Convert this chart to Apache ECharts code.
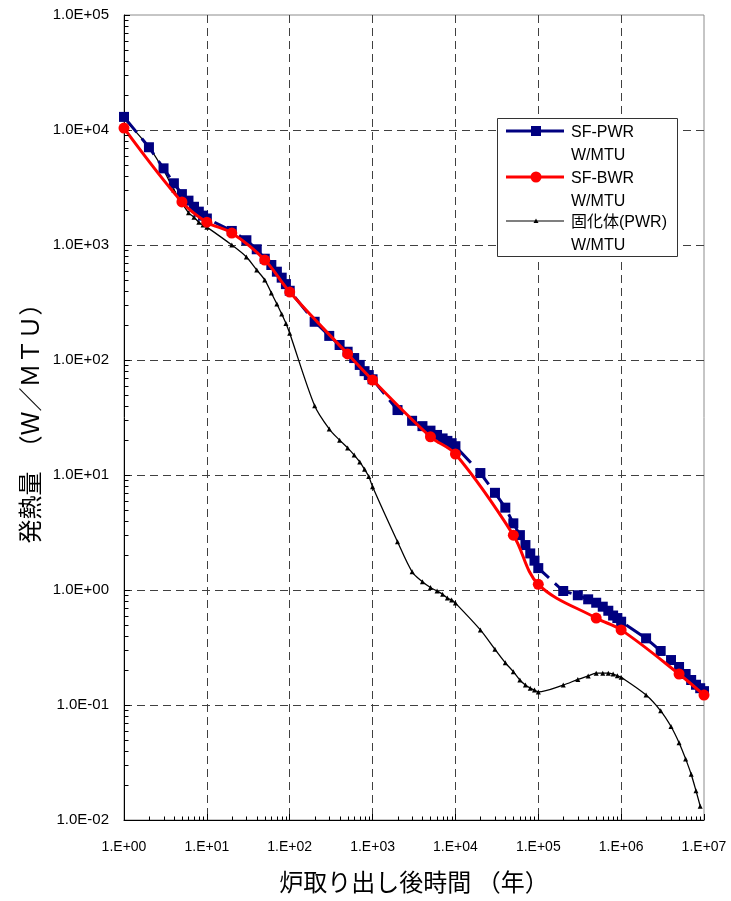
<!DOCTYPE html>
<html>
<head>
<meta charset="utf-8">
<script src="https://cdn.jsdelivr.net/npm/echarts@6/dist/echarts.min.js"></script>
<style>
  html, body { margin: 0; padding: 0; background: #fff; }
  #chart { width: 731px; height: 901px; }
</style>
</head>
<body>
<div id="chart"></div>
<script>
// Decay heat vs. time after discharge (years), log-log
const seriesNames = ['SF-PWR', 'SF-BWR', '固化体(PWR)'];
const unitLabel = 'W/MTU';

const pwrYears = [1, 2, 3, 4, 5, 6, 7, 8, 9, 10,
  20, 30, 40, 50, 60, 70, 80, 90, 100,
  200, 300, 400, 500, 600, 700, 800, 900, 1000,
  2000, 3000, 4000, 5000, 6000, 7000, 8000, 9000, 1e4,
  2e4, 3e4, 4e4, 5e4, 6e4, 7e4, 8e4, 9e4, 1e5,
  2e5, 3e5, 4e5, 5e5, 6e5, 7e5, 8e5, 9e5, 1e6,
  2e6, 3e6, 4e6, 5e6, 6e6, 7e6, 8e6, 9e6, 1e7];
const pwrHeat = [13000, 7080, 4640, 3440, 2770, 2430, 2150, 1950, 1800, 1700,
  1325, 1100, 918, 760, 670, 586, 520, 457, 400,
  215, 162, 135, 118, 104, 90.6, 80, 74, 68,
  36.7, 29.6, 26.6, 24.3, 22.3, 20.8, 19.8, 18.9, 17.8,
  10.4, 7.0, 5.2, 3.8, 3.0, 2.46, 2.08, 1.8, 1.55,
  0.98, 0.9, 0.83, 0.775, 0.716, 0.66, 0.6, 0.57, 0.53,
  0.38, 0.295, 0.246, 0.214, 0.186, 0.165, 0.15, 0.14, 0.132];

const bwrYears = [1, 5, 10, 20, 50, 100, 500, 1000, 5000, 1e4, 5e4, 1e5, 5e5, 1e6, 5e6, 1e7];
const bwrHeat = [10400, 2370, 1580, 1270, 740, 390, 113, 67, 21.5, 15.2, 3.0, 1.12, 0.57, 0.45, 0.186, 0.122];

const hlwYears = [1, 2, 3, 4, 5, 6, 7, 8, 9, 10,
  20, 30, 40, 50, 60, 70, 80, 90, 100,
  200, 300, 400, 500, 600, 700, 800, 900, 1000,
  2000, 3000, 4000, 5000, 6000, 7000, 8000, 9000, 1e4,
  2e4, 3e4, 4e4, 5e4, 6e4, 7e4, 8e4, 9e4, 1e5,
  2e5, 3e5, 4e5, 5e5, 6e5, 7e5, 8e5, 9e5, 1e6,
  2e6, 3e6, 4e6, 5e6, 6e6, 7e6, 8e6, 9e6];
const hlwHeat = [12500, 7100, 4490, 3000, 2320, 1910, 1740, 1580, 1490, 1430,
  1000, 787, 606, 497, 383, 307, 251, 208, 171,
  40, 25.1, 20.1, 17.2, 14.9, 13, 11.2, 9.7, 7.9,
  2.63, 1.44, 1.18, 1.05, 0.98, 0.92, 0.85, 0.82, 0.77,
  0.45, 0.305, 0.233, 0.195, 0.165, 0.149, 0.14, 0.135, 0.13,
  0.149, 0.167, 0.179, 0.189, 0.189, 0.189, 0.186, 0.18, 0.174,
  0.122, 0.089, 0.065, 0.047, 0.034, 0.025, 0.018, 0.0132];

const xMin = 1, xMax = 1e7;
const yMin = 0.01, yMax = 1e5;
const xTitle = '炉取り出し後時間 （年）';
const yTitle = '発熱量　（Ｗ／ＭＴＵ）';

const colors = ['#000080', '#ff0000', '#000000'];
const latin = "'Liberation Sans', Arial, sans-serif";
const cjk = "'Liberation Sans', 'Noto Sans CJK JP', sans-serif";

function pairs(xs, ys) { return xs.map((x, i) => [x, ys[i]]); }
function expStr(v) {
  const e = Math.round(Math.log10(v));
  return (e < 0 ? '-' : '+') + String(Math.abs(e)).padStart(2, '0');
}

// minor tick positions (2..9 within each decade) for both log axes
const mults = [2, 3, 4, 5, 6, 7, 8, 9];
const minorTicks = [];
for (let e = 0; e < 7; e++) mults.forEach(m => minorTicks.push([m * Math.pow(10, e), yMin, 0]));
for (let e = -2; e < 5; e++) mults.forEach(m => minorTicks.push([xMin, m * Math.pow(10, e), 1]));

const chart = echarts.init(document.getElementById('chart'), null, { renderer: 'canvas' });

const splitStyle = { color: '#404040', width: 1, type: [8, 5] };

// legend box drawn with graphic elements so each label can span two lines
const legendTop = 118, legendLeft = 497;
const rowY = [131, 177, 221];
const textY = [133, 179, 223];
const legendGraphics = [{
  type: 'rect', z: 100,
  shape: { x: legendLeft + 0.5, y: legendTop + 0.5, width: 180, height: 138 },
  style: { fill: '#fff', stroke: '#333', lineWidth: 1 }
}];
seriesNames.forEach((name, i) => {
  legendGraphics.push({
    type: 'line', z: 101,
    shape: { x1: 506, y1: rowY[i], x2: 564, y2: rowY[i] },
    style: { stroke: colors[i], lineWidth: i === 2 ? 1.2 : 3 }
  });
  if (i === 0) {
    legendGraphics.push({ type: 'rect', z: 102, shape: { x: 531, y: rowY[i] - 5, width: 10, height: 10 }, style: { fill: colors[0] } });
  } else if (i === 1) {
    legendGraphics.push({ type: 'circle', z: 102, shape: { cx: 536, cy: rowY[i], r: 5.5 }, style: { fill: colors[1] } });
  } else {
    legendGraphics.push({ type: 'polygon', z: 102, shape: { points: [[536, rowY[i] - 2.5], [538.5, rowY[i] + 2], [533.5, rowY[i] + 2]] }, style: { fill: '#000' } });
  }
  legendGraphics.push({
    type: 'text', z: 102, x: 571, y: textY[i],
    style: { text: name, font: '16px ' + cjk, fill: '#000', verticalAlign: 'middle' }
  });
  legendGraphics.push({
    type: 'text', z: 102, x: 571, y: textY[i] + 22.5,
    style: { text: unitLabel, font: '16px ' + latin, fill: '#000', verticalAlign: 'middle' }
  });
});

chart.setOption({
  animation: false,
  backgroundColor: '#fff',
  grid: {
    left: 124, top: 15, width: 580, height: 805,
    show: true, borderColor: '#8c8c8c', borderWidth: 1, backgroundColor: 'transparent'
  },
  xAxis: {
    type: 'log', logBase: 10, min: xMin, max: xMax, splitNumber: 7,
    name: xTitle, nameLocation: 'middle', nameGap: 50,
    nameTextStyle: { fontFamily: "'Noto Sans CJK JP', sans-serif", fontSize: 24, color: '#000' },
    axisLine: { lineStyle: { color: '#000', width: 1 } },
    axisTick: { inside: true, length: 6, lineStyle: { color: '#000' } },
    axisLabel: {
      margin: 20, fontFamily: latin, fontSize: 14, color: '#000',
      showMinLabel: true, showMaxLabel: true, hideOverlap: false,
      formatter: v => '1.E' + expStr(v)
    },
    splitLine: { show: true, showMinLine: false, showMaxLine: false, lineStyle: splitStyle }
  },
  yAxis: {
    type: 'log', logBase: 10, min: yMin, max: yMax, splitNumber: 7,
    name: yTitle, nameLocation: 'middle', nameGap: 79, nameRotate: 90,
    nameTextStyle: { fontFamily: "'Noto Sans CJK JP', sans-serif", fontSize: 24, color: '#000' },
    axisLine: { lineStyle: { color: '#000', width: 1 } },
    axisTick: { inside: true, length: 6, lineStyle: { color: '#000' } },
    axisLabel: {
      margin: 15, fontFamily: latin, fontSize: 15, color: '#000',
      showMinLabel: true, showMaxLabel: true, hideOverlap: false,
      formatter: v => '1.0E' + expStr(v)
    },
    splitLine: { show: true, showMinLine: false, showMaxLine: false, lineStyle: splitStyle }
  },
  graphic: legendGraphics,
  series: [
    {
      name: seriesNames[2], type: 'line', data: pairs(hlwYears, hlwHeat),
      smooth: 0.3, symbol: 'triangle', symbolSize: 5, z: 3,
      lineStyle: { color: colors[2], width: 1.3 }, itemStyle: { color: colors[2] }
    },
    {
      name: seriesNames[0], type: 'line', data: pairs(pwrYears, pwrHeat),
      smooth: false, symbol: 'rect', symbolSize: 10, z: 4,
      lineStyle: { color: colors[0], width: 3, type: [20, 8] }, itemStyle: { color: colors[0] }
    },
    {
      name: seriesNames[1], type: 'line', data: pairs(bwrYears, bwrHeat),
      smooth: 0.35, symbol: 'circle', symbolSize: 11, z: 5,
      lineStyle: { color: colors[1], width: 3 }, itemStyle: { color: colors[1] }
    },
    {
      name: 'minor-ticks', type: 'custom', coordinateSystem: 'cartesian2d',
      silent: true, clip: false, z: 10,
      encode: { x: 0, y: 1 },
      data: minorTicks,
      renderItem: (params, api) => {
        const p = api.coord([api.value(0), api.value(1)]);
        const horiz = api.value(2) === 1;
        const x = Math.round(p[0]) + 0.5, y = Math.round(p[1]) + 0.5;
        return {
          type: 'line',
          shape: horiz ? { x1: x, y1: y, x2: x + 4, y2: y } : { x1: x, y1: y, x2: x, y2: y - 4 },
          style: { stroke: '#000', lineWidth: 1 }
        };
      }
    }
  ]
});
</script>
</body>
</html>
